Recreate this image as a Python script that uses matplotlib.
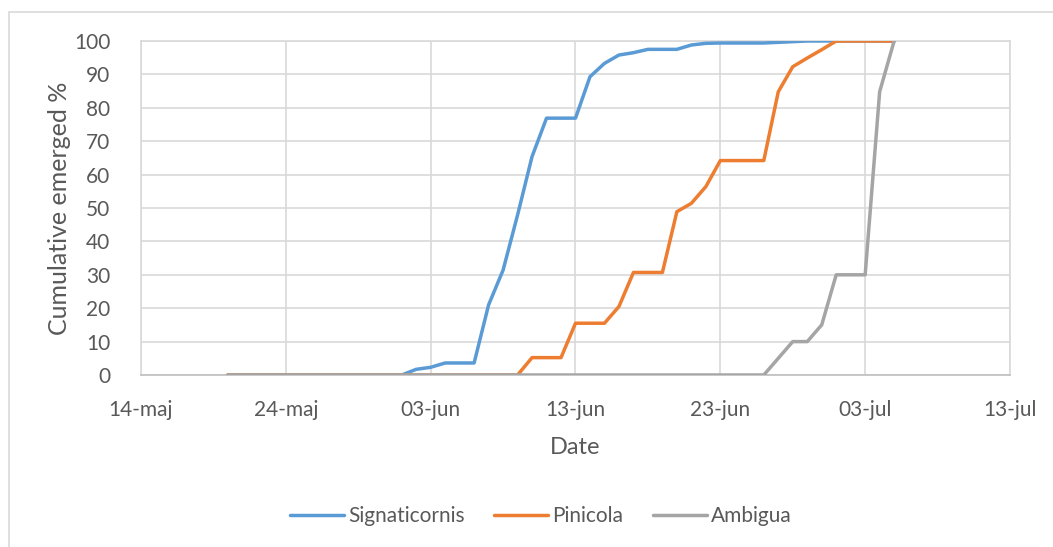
import numpy as np
import pandas as pd
import matplotlib
matplotlib.use("Agg")
import matplotlib.pyplot as plt
from matplotlib.patches import Rectangle

plt.rcParams['font.family'] = ['Lato', 'DejaVu Sans']

# daily observations, 20 May - 5 Jul
dates = pd.date_range("2019-05-20", "2019-07-05", freq="D")

signaticornis = [0] * 13 + [
    1.7, 2.3, 3.6, 3.6, 3.6, 21, 31.4, 47.9, 65.4, 76.9, 76.9, 76.9,
    89.3, 93.3, 95.8, 96.5, 97.5, 97.5, 97.5, 98.8, 99.3, 99.4, 99.4,
    99.4, 99.4, 99.6, 99.8, 100, 100, 100, 100, 100, 100, 100,
]
pinicola = [0] * 21 + [
    5.2, 5.2, 5.2, 15.5, 15.5, 15.5, 20.5, 30.7, 30.7, 30.7, 48.9,
    51.4, 56.4, 64.2, 64.2, 64.2, 64.2, 84.8, 92.3, 94.9, 97.4,
    100, 100, 100, 100, 100,
]
ambigua = [0] * 38 + [5, 10, 10, 15, 30, 30, 30, 84.8, 100]

series = [
    ("Signaticornis", signaticornis, "#5B9BD5"),
    ("Pinicola", pinicola, "#ED7D31"),
    ("Ambigua", ambigua, "#A5A5A5"),
]

tick_dates = pd.to_datetime(["2019-05-14", "2019-05-24", "2019-06-03",
                             "2019-06-13", "2019-06-23", "2019-07-03",
                             "2019-07-13"])
tick_labels = ["14-maj", "24-maj", "03-jun", "13-jun", "23-jun", "03-jul", "13-jul"]

text_col = "#595959"
grid_col = "#D9D9D9"

W, H = 1053, 547
fig = plt.figure(figsize=(W / 100, H / 100), dpi=100)
ax = fig.add_axes([141 / W, 1 - 375 / H, (1010 - 141) / W, (375 - 41) / H])

for name, vals, col in series:
    ax.plot(dates, vals, color=col, lw=2.5, label=name,
            solid_capstyle="round", solid_joinstyle="round", zorder=3)

ax.set_xlim(tick_dates[0], tick_dates[-1])
ax.set_ylim(0, 100)
ax.set_xticks(tick_dates)
ax.set_xticklabels(tick_labels)
ax.set_yticks(np.arange(0, 101, 10))

ax.grid(True, color=grid_col, lw=1.2)
ax.set_axisbelow(True)
for sp in ax.spines.values():
    sp.set_color(grid_col)
    sp.set_linewidth(1.2)
ax.spines["bottom"].set_color("#BFBFBF")
ax.tick_params(length=0, colors=text_col, labelsize=15)
ax.tick_params(axis="y", pad=22)
ax.tick_params(axis="x", pad=18)

ax.set_xlabel("Date", fontsize=17, color=text_col)
ax.set_ylabel("Cumulative emerged %", fontsize=18, color=text_col)
ax.xaxis.set_label_coords(0.5, -0.185)
ax.yaxis.set_label_coords(-0.08, 0.5)

fig.legend(loc="center", bbox_to_anchor=(541 / W, 1 - 516 / H), ncol=3,
           frameon=False, fontsize=15, handlelength=2.6, handletextpad=0.2,
           columnspacing=1.4, labelcolor=text_col)

# chart area outline
fig.patches.append(Rectangle((9 / W, -0.1), 1.1, 1 - 12 / H + 0.1,
                             transform=fig.transFigure, fill=False,
                             edgecolor=grid_col, lw=1.2))

fig.savefig("out.png", dpi=100)
